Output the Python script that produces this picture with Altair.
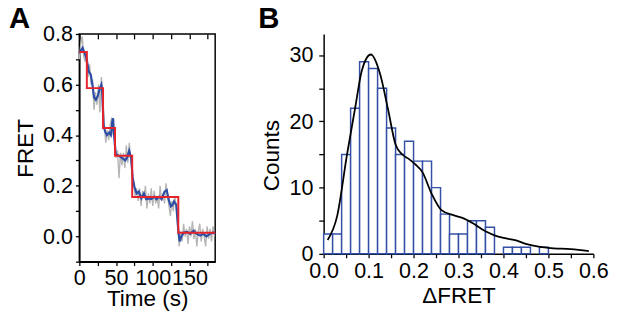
import altair as alt
import pandas as pd

# ---------------- Panel A: single-molecule FRET trace ----------------
raw_time = list(range(0, 185, 2))
raw_fret = [0.70, 0.76, 0.79, 0.71, 0.69, 0.72, 0.63, 0.68, 0.60, 0.62,
            0.50, 0.57, 0.52, 0.60, 0.49, 0.63, 0.55, 0.44, 0.37, 0.42,
            0.38, 0.44, 0.47, 0.40, 0.43, 0.31, 0.34, 0.23, 0.33, 0.28,
            0.33, 0.27, 0.36, 0.29, 0.37, 0.30, 0.26, 0.21, 0.16, 0.19,
            0.14, 0.19, 0.12, 0.18, 0.15, 0.20, 0.11, 0.17, 0.13, 0.19,
            0.12, 0.18, 0.13, 0.16, 0.11, 0.20, 0.14, 0.17, 0.13, 0.21,
            0.16, 0.12, 0.08, 0.14, 0.10, 0.16, 0.12, 0.04, -0.04, 0.02,
            -0.02, 0.05, 0.00, 0.03, -0.03, 0.04, 0.00, 0.06, -0.01, 0.03,
            -0.04, 0.02, 0.05, -0.02, 0.03, 0.00, -0.04, 0.04, -0.01, 0.03,
            -0.02, 0.04, 0.00]

smooth_time = [0, 4.5, 7, 10, 13, 15.5, 18, 20, 22.5, 25.5, 27.6, 30, 31,
               33, 35, 37.6, 40.6, 42.9, 45, 46, 47, 49.5, 53, 58, 62.6,
               64.8, 67.9, 70.6, 72.4, 75, 78, 81, 84.5, 88, 91, 94, 98,
               102, 105, 109, 112, 116, 119, 121.5, 124.6, 127, 129, 132,
               134.6, 136.6, 139, 142.4, 146.8, 151, 155.6, 160, 164.5,
               169, 173, 178, 182.5, 185]
smooth_fret = [0.725, 0.745, 0.725, 0.70, 0.65, 0.64, 0.596, 0.55, 0.54,
               0.557, 0.583, 0.60, 0.577, 0.44, 0.415, 0.40, 0.41, 0.40,
               0.455, 0.467, 0.41, 0.325, 0.32, 0.31, 0.30, 0.31, 0.338,
               0.31, 0.235, 0.196, 0.17, 0.177, 0.15, 0.17, 0.147, 0.15,
               0.147, 0.157, 0.147, 0.157, 0.147, 0.177, 0.183, 0.147,
               0.119, 0.125, 0.138, 0.125, 0.03, -0.02, 0.0, 0.015, 0.018,
               0.01, 0.022, 0.01, 0.003, 0.01, 0.0, 0.01, 0.015, 0.01]

step_time = [0, 10.2, 32.3, 48.6, 72.0, 134.8, 185]
step_fret = [0.729, 0.586, 0.428, 0.319, 0.156, 0.014, 0.014]

time_ticks = [0, 25, 50, 75, 100, 125, 150, 175]
fret_ticks = [-0.1, 0.0, 0.1, 0.2, 0.3, 0.4, 0.5, 0.6, 0.7, 0.8]

# ---------------- Panel B: histogram of step sizes ----------------
bin_start = [0.00, 0.02, 0.04, 0.06, 0.08, 0.10, 0.12, 0.14, 0.16, 0.18,
             0.20, 0.22, 0.24, 0.26, 0.28, 0.30, 0.32, 0.34, 0.36, 0.38,
             0.40, 0.42, 0.44, 0.46, 0.48]
bin_end = [0.02, 0.04, 0.06, 0.08, 0.10, 0.12, 0.14, 0.16, 0.18, 0.20,
           0.22, 0.24, 0.26, 0.28, 0.30, 0.32, 0.34, 0.36, 0.38, 0.40,
           0.42, 0.44, 0.46, 0.48, 0.50]
counts = [3, 3, 15, 22, 29, 28, 25, 19, 15, 17, 14, 14, 10, 6, 3, 3, 5, 5,
          4, 0, 1, 1, 1, 0, 1]

kde_x = [0.009, 0.03, 0.052, 0.07, 0.085, 0.105, 0.125, 0.143, 0.16, 0.175,
         0.19, 0.204, 0.22, 0.24, 0.262, 0.29, 0.31, 0.33, 0.36, 0.38, 0.40,
         0.43, 0.45, 0.50, 0.55, 0.59]
kde_y = [2.1, 5.7, 15, 22, 27.7, 30.1, 27.3, 21.9, 16.5, 15, 14.3, 13.5,
         12.3, 9.1, 6.6, 5.8, 5.4, 4.7, 3.4, 2.8, 2.4, 2.0, 1.5, 0.9, 0.7,
         0.4]

dfret_ticks = [0.0, 0.05, 0.1, 0.15, 0.2, 0.25, 0.3, 0.35, 0.4, 0.45, 0.5,
               0.55, 0.6]
count_ticks = [0, 5, 10, 15, 20, 25, 30]

panel_letters = ["A", "B"]

FONT = "Liberation Sans"
BLUE = "#2C4DA5"
RED = "#E4232B"
GRAY = "#B5B5B5"
HBLUE = "#3350A6"

raw_df = pd.DataFrame({"t": raw_time, "v": raw_fret})
smooth_df = pd.DataFrame({"t": smooth_time, "v": smooth_fret})
step_df = pd.DataFrame({"t": step_time, "v": step_fret})

xA = alt.Scale(domain=[0, 185], nice=False, zero=False)
yA = alt.Scale(domain=[-0.1, 0.8], nice=False, zero=False)

axis_common = dict(domainColor="black", tickColor="black", labelColor="black",
                   titleColor="black", labelFont=FONT, titleFont=FONT,
                   labelFontSize=22, titleFontSize=23, titleFontWeight="normal",
                   grid=False, labelFlush=False, labelOverlap=False,
                   domainWidth=1.5, tickWidth=1.3)

bottomA = alt.Axis(values=time_ticks, tickSize=4, labelPadding=2,
                   labelExpr="datum.value % 50 == 0 ? datum.label : ''",
                   title="Time (s)", titlePadding=0, **axis_common)
topA = alt.Axis(orient="top", values=time_ticks, tickSize=5, offset=-5,
                labels=False, domain=False, title=None, ticks=True,
                tickColor="black", tickWidth=1.3, grid=False)
leftA = alt.Axis(values=fret_ticks, tickSize=4, labelPadding=3, format=".1f",
                 labelExpr="(round(datum.value*10) % 2 == 0) ? datum.label : ''",
                 title="FRET", titlePadding=5, **axis_common)

raw_line = alt.Chart(raw_df).mark_line(color=GRAY, strokeWidth=1.4).encode(
    x=alt.X("t:Q", scale=xA, axis=bottomA),
    y=alt.Y("v:Q", scale=yA, axis=leftA),
)
smooth_line = alt.Chart(smooth_df).mark_line(color=BLUE, strokeWidth=2.2).encode(
    x=alt.X("t:Q", scale=xA, axis=None),
    y=alt.Y("v:Q", scale=yA, axis=leftA),
)
step_line = alt.Chart(step_df).mark_line(color=RED, strokeWidth=2,
                                         interpolate="step-after").encode(
    x=alt.X("t:Q", scale=xA, axis=topA),
    y=alt.Y("v:Q", scale=yA, axis=leftA),
)
letterA = alt.Chart(pd.DataFrame({"p": [panel_letters[0]]})).mark_text(
    font=FONT, fontSize=30, fontWeight="bold", color="black",
    align="left", baseline="alphabetic"
).encode(text="p:N", x=alt.value(-72), y=alt.value(-6))

panelA = alt.layer(raw_line, smooth_line, step_line, letterA).resolve_axis(
    x="independent"
).properties(
    width=139, height=233,
    view=alt.ViewBackground(stroke="black", strokeWidth=1.5),
)

hist_df = pd.DataFrame({"x0": bin_start, "x1": bin_end, "n": counts})
kde_df = pd.DataFrame({"x": kde_x, "y": kde_y})

xB = alt.Scale(domain=[0, 0.6], nice=False, zero=False)
yB = alt.Scale(domain=[0, 33.2], nice=False)

bottomB = alt.Axis(values=dfret_ticks, tickSize=4, labelPadding=3,
                   format=".1f",
                   labelExpr="(round(datum.value*100) % 10 == 0) ? datum.label : ''",
                   title="ΔFRET", titlePadding=4, **axis_common)
leftB = alt.Axis(values=count_ticks, tickSize=5, labelPadding=6,
                 labelExpr="datum.value % 10 == 0 ? datum.label : ''",
                 title="Counts", titlePadding=6, titleY=124, **axis_common)

bars = alt.Chart(hist_df).transform_filter("datum.n > 0").mark_rect(
    fill="white", stroke=HBLUE, strokeWidth=1.5
).encode(
    x=alt.X("x0:Q", scale=xB, axis=bottomB),
    x2="x1:Q",
    y=alt.Y("n:Q", scale=yB, axis=leftB),
    y2=alt.datum(0),
)
kde = alt.Chart(kde_df).mark_line(color="black", strokeWidth=1.8,
                                  interpolate="monotone").encode(
    x=alt.X("x:Q", scale=xB, axis=bottomB),
    y=alt.Y("y:Q", scale=yB, axis=leftB),
)
letterB = alt.Chart(pd.DataFrame({"p": [panel_letters[1]]})).mark_text(
    font=FONT, fontSize=30, fontWeight="bold", color="black",
    align="left", baseline="alphabetic"
).encode(text="p:N", x=alt.value(-67), y=alt.value(-6))

panelB = alt.layer(bars, kde, letterB).properties(width=276, height=225)

chart = alt.hconcat(panelA, panelB, spacing=38).properties(
    padding={"left": 0, "top": -8, "right": 0, "bottom": 0}
).configure_view(strokeWidth=0)

chart.save("out.html", embed_options={"renderer": "svg", "actions": False})
